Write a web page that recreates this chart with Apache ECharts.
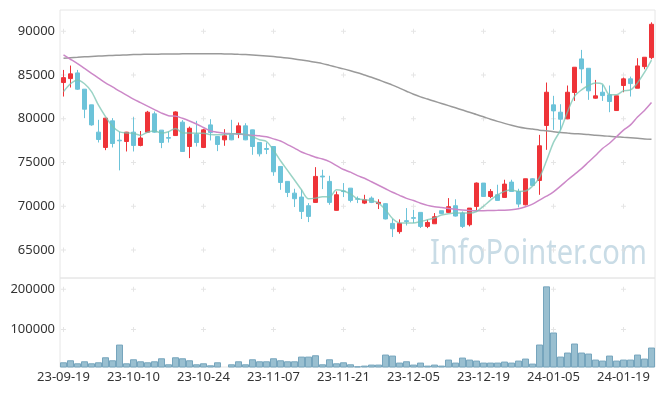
<!DOCTYPE html>
<html><head><meta charset="utf-8">
<script src="https://cdn.jsdelivr.net/npm/echarts@6/dist/echarts.min.js"></script>
<style>html,body{margin:0;padding:0;background:#fff}#c{width:665px;height:396px}</style>
</head><body><div id="c"></div>
<script>
const dates = ['23-09-19','23-09-20','23-09-21','23-09-22','23-09-25','23-09-26','23-09-27',
'23-10-04','23-10-05','23-10-06','23-10-10','23-10-11','23-10-12','23-10-13','23-10-16','23-10-17','23-10-18','23-10-19','23-10-20','23-10-23','23-10-24','23-10-25','23-10-26','23-10-27','23-10-30','23-10-31',
'23-11-01','23-11-02','23-11-03','23-11-06','23-11-07','23-11-08','23-11-09','23-11-10','23-11-13','23-11-14','23-11-15','23-11-16','23-11-17','23-11-20','23-11-21','23-11-22','23-11-23','23-11-24','23-11-27','23-11-28','23-11-29','23-11-30',
'23-12-01','23-12-04','23-12-05','23-12-06','23-12-07','23-12-08','23-12-11','23-12-12','23-12-13','23-12-14','23-12-15','23-12-18','23-12-19','23-12-20','23-12-21','23-12-22','23-12-26','23-12-27','23-12-28',
'24-01-02','24-01-03','24-01-04','24-01-05','24-01-08','24-01-09','24-01-10','24-01-11','24-01-12','24-01-15','24-01-16','24-01-17','24-01-18','24-01-19','24-01-22','24-01-23','24-01-24','24-01-25'];

const openV = [84140,84590,85240,83380,81590,78470,76720,79760,77550,77400,
78470,76950,78470,80560,78700,77850,78080,79610,76830,78240,
76720,79300,77970,77590,78240,78240,79190,78730,77290,76600,
76830,74550,72840,71500,71050,70060,70440,73450,72840,69530,
71750,72070,70860,70360,70930,70300,70300,68040,67100,68350,
68700,69300,67700,68000,69490,69300,70060,69220,67890,69980,
72650,71120,71310,71010,72760,71690,70170,73140,72950,79230,
81590,80750,79990,83000,86840,85770,82350,83030,82730,80940,
83800,84560,83490,85960,86990];
const closeV = [84700,85130,83380,81090,79300,77630,80070,77170,77480,78470,
76950,77800,80750,78470,77290,77780,80780,76260,78920,77290,
78730,78430,77060,78050,77590,79190,77590,76830,75990,76500,
73940,72720,71580,70860,69410,68840,73410,73350,70440,71310,
71680,70670,70800,70740,70440,70450,68550,67430,68040,68250,
68620,67700,68150,68800,69180,69950,68880,67700,69790,72650,
71120,71690,70670,72530,71690,70250,73140,72380,76910,83030,
80900,79950,83030,85890,85700,83190,82620,82650,81970,82620,
84560,84020,86040,87030,90800];
const lowV = [82540,83570,83300,80070,79200,77290,76410,76720,74100,76260,
76260,76850,78400,78400,76640,77280,78050,76250,75500,76830,
76650,77520,76300,76910,77550,77780,77550,75880,75690,75960,
73480,71880,71050,69910,68540,68190,70400,71960,70170,69500,
71050,70440,70360,70250,70360,69680,68500,66480,66860,67800,
68080,67510,67500,68000,69100,69290,68830,67510,67700,69410,
71100,70930,70660,71000,71690,69870,70100,72350,71310,76450,
78730,78730,79950,82040,84060,82160,82300,82040,80750,80900,
83030,82540,83490,85660,86800];
const highV = [85580,86080,85580,83400,81600,79880,80100,80070,78500,78500,
80180,78600,80900,80830,78700,78540,80850,79840,79110,79760,
78850,79950,77990,78810,79880,79570,79490,78750,77300,77290,
76830,74550,72850,72000,71880,70360,74470,74170,73480,71690,
72650,72080,71120,71310,71120,70800,70350,68550,68500,69790,
69600,69300,68460,69220,69500,70930,70800,69410,69800,72720,
72650,71960,72460,73030,73030,72000,73150,73200,78160,84140,
82620,81660,83800,85900,87870,85780,84440,83870,83800,82650,
84710,84820,86920,87040,91020];

const volume = [18250,23250,15750,20750,15750,18250,30750,23250,62400,15750,
25750,20750,18250,20750,28250,13250,30750,28250,23250,13250,
15750,10750,18250,7500,13250,20750,13250,25750,20750,20750,
28250,23250,20750,20750,32400,32400,35750,13250,25750,15750,
18250,13250,8300,10000,12500,12500,37500,35000,17500,20800,
12500,17500,10000,12500,10000,25000,17500,30000,25000,22500,
17500,17500,17500,20000,17500,22500,27500,15000,62500,207500,
92500,32500,42500,65000,42500,40000,25000,22500,35000,22500,
25000,25000,37500,27500,55000];

const ma5 = [83100,84000,84440,84000,83100,81550,80250,79150,78500,78380,
78330,78100,78450,78600,78380,78520,78900,78380,78360,78350,
78350,78200,78160,78200,78280,78280,78200,77950,77600,77400,
76400,75200,74100,73000,71880,70850,70930,71100,71050,71900,
71750,71400,70850,70750,70650,70350,69600,68600,68100,68080,
68080,68250,68450,68650,69000,69150,69220,69220,69220,69400,
70000,70700,71300,71700,71850,71700,71750,72300,73300,75200,
77300,78700,80800,82550,83300,83800,84100,83950,82750,82750,
83200,83300,84100,85300,86700];
const ma20 = [87290,86800,86300,85750,85200,84650,84100,83650,83150,82700,
82250,81850,81450,81050,80650,80350,80300,80050,79750,79400,
79000,78600,78450,78350,78300,78250,78180,78100,78050,77950,
77700,77450,77050,76650,76200,75900,75600,75400,75100,74650,
74200,73900,73500,73200,72800,72400,72000,71600,71250,70900,
70650,70350,70100,69950,69850,69750,69650,69570,69520,69500,
69500,69520,69530,69550,69600,69720,69950,70250,70700,71150,
71650,72300,73000,73650,74300,75050,75800,76600,77200,77950,
78700,79300,80200,80950,81850];
const ma120 = [86920,86980,87030,87080,87120,87160,87200,87240,87270,87300,
87330,87350,87370,87380,87390,87400,87410,87420,87430,87440,
87440,87440,87430,87410,87390,87360,87330,87290,87240,87180,
87110,87030,86940,86840,86720,86590,86450,86300,86100,85900,
85700,85480,85250,85000,84750,84450,84150,83850,83500,83150,
82800,82500,82250,82000,81750,81500,81250,81000,80750,80480,
80220,79950,79700,79470,79250,79060,78920,78820,78700,78620,
78520,78430,78360,78300,78250,78200,78120,78050,78000,77950,
77880,77820,77760,77700,77670];

const priceTicks = [65000,70000,75000,80000,85000,90000];
const volumeTicks = [100000,200000];
const dateTickStep = 10;

const candleData = dates.map((d,i)=>[openV[i],closeV[i],lowV[i],highV[i]]);
const tickDates = dates.filter((d,i)=>i % dateTickStep === 0);
const priceCross = [], volCross = [];
tickDates.forEach(d=>{
  priceTicks.forEach(v=>priceCross.push([d,v]));
  volumeTicks.forEach(v=>volCross.push([d,v]));
});

const FONT = 'Noto Sans';
const chart = echarts.init(document.getElementById('c'), null, {renderer:'canvas'});

// watermark horizontal scale to match reference width
const cv = document.createElement('canvas').getContext('2d');
cv.font = '35px "Noto Sans"';
const wmW = cv.measureText('InfoPointer.com').width;
const wmScale = 217 / wmW;

const crossSym = 'path://M0,2h5v1h-5z M2,0h1v5h-1z';
const labelFmt = v => (Math.abs(v % 5000) < 1e-6 ? String(v) : '');

chart.setOption({
  animation:false,
  backgroundColor:'#ffffff',
  graphic:[{
    type:'text', x:430, y:254, scaleX:wmScale, z:-1, zlevel:0, silent:true,
    style:{text:'InfoPointer.com', font:'35px "Noto Sans"', fill:'#c9dce6', verticalAlign:'middle', align:'left'}
  }],
  grid:[
    {left:60, right:10, top:10, height:268, show:true, borderColor:'#e6e6e6', borderWidth:1, backgroundColor:'transparent'},
    {left:60, right:10, top:278, height:89, show:true, borderColor:'#e6e6e6', borderWidth:1, backgroundColor:'transparent'}
  ],
  xAxis:[
    {type:'category', gridIndex:0, data:dates, boundaryGap:true,
     axisLine:{show:false}, axisTick:{show:false}, axisLabel:{show:false}, splitLine:{show:false}},
    {type:'category', gridIndex:1, data:dates, boundaryGap:true,
     axisLine:{show:false}, axisTick:{show:false}, splitLine:{show:false},
     axisLabel:{interval:dateTickStep-1, fontFamily:FONT, fontSize:13, color:'#333', margin:4}}
  ],
  yAxis:[
    {type:'value', gridIndex:0, min:61800, max:92430, splitNumber:6, scale:true,
     axisLine:{show:false}, axisTick:{show:false}, splitLine:{show:false},
     axisLabel:{formatter:labelFmt, fontFamily:FONT, fontSize:13, color:'#333', margin:5}},
    {type:'value', gridIndex:1, min:6500, max:228300, splitNumber:2,
     axisLine:{show:false}, axisTick:{show:false}, splitLine:{show:false},
     axisLabel:{formatter:v=>(Math.abs(v % 100000) < 1e-6 && v>0 ? String(v) : ''), fontFamily:FONT, fontSize:13, color:'#333', margin:5}}
  ],
  series:[
    {type:'scatter', xAxisIndex:0, yAxisIndex:0, data:priceCross, symbol:crossSym, symbolSize:5,
     itemStyle:{color:'#dedede'}, silent:true, z:1},
    {type:'scatter', xAxisIndex:1, yAxisIndex:1, data:volCross, symbol:crossSym, symbolSize:5,
     itemStyle:{color:'#dedede'}, silent:true, z:1},
    {type:'candlestick', xAxisIndex:0, yAxisIndex:0, data:candleData, barWidth:5, z:3,
     itemStyle:{color:'#ee3338', color0:'#6cc3d9', borderColor:'#ee3338', borderColor0:'#6cc3d9', borderWidth:1}},
    {type:'line', xAxisIndex:0, yAxisIndex:0, data:ma120, showSymbol:false, smooth:0.3, z:4,
     lineStyle:{color:'#9a9a9a', width:1.5}},
    {type:'line', xAxisIndex:0, yAxisIndex:0, data:ma20, showSymbol:false, smooth:0.3, z:4,
     lineStyle:{color:'#cc88c8', width:1.5}},
    {type:'line', xAxisIndex:0, yAxisIndex:0, data:ma5, showSymbol:false, smooth:0.3, z:5,
     lineStyle:{color:'rgba(120,196,178,0.75)', width:1.5}},
    {type:'bar', xAxisIndex:1, yAxisIndex:1, data:volume, barWidth:'100%', z:3,
     itemStyle:{color:'#99bfd0', borderColor:'#76a5bd', borderWidth:1}}
  ]
});
</script></body></html>
